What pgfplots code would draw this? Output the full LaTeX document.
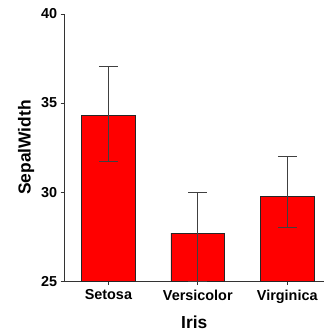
\documentclass[border=0pt]{standalone}
\usepackage{pgfplots}
\pgfplotsset{compat=1.18}
\usepackage{fontspec}
\setmainfont{Liberation Sans}
\usetikzlibrary{calc}
\pgfplotstableread{
x y ep em
0 34.28 2.75 2.53
1 27.70 2.30 2.70
2 29.74 2.26 1.75
}\datatable
\begin{document}
\begin{tikzpicture}
\begin{axis}[
  name=ax,
  scale only axis,
  width=261pt, height=269pt,
  xmin=-0.49, xmax=2.41,
  ymin=25, ymax=40,
  axis x line=bottom, axis y line=left,
  axis line style={-, line width=0.8pt, black!80},
  xtick={0,1,2},
  xticklabels={Setosa,Versicolor,Virginica},
  ytick={25,30,35,40},
  tick style={black!80, line width=0.8pt},
  major tick length=4pt,
  xtick align=outside, ytick align=outside,
  tick label style={font=\fontsize{14.5}{16}\selectfont\bfseries},
  /pgf/number format/assume math mode=true,
  xlabel={Iris}, ylabel={SepalWidth},
  label style={font=\fontsize{17.5}{19}\selectfont\bfseries},
  xlabel style={yshift=-6pt},
  ylabel style={yshift=0pt},
  xticklabel style={yshift=-1pt},
  clip=false,
]
\addplot[ybar, bar width=54pt, fill=red, draw=black!85, line width=0.8pt]
table[x=x, y=y] {\datatable};
\addplot[draw=none, forget plot,
  error bars/.cd, y dir=both, y explicit,
  error bar style={line width=0.8pt, black!75},
  error mark options={rotate=90, mark size=9.5pt, line width=0.8pt, black!75}]
table[x=x, y=y, y error plus=ep, y error minus=em] {\datatable};
\end{axis}
\path ($(ax.south west)+(-65pt,-49pt)$) rectangle ($(ax.north east)+(0pt,14pt)$);
\end{tikzpicture}
\end{document}
